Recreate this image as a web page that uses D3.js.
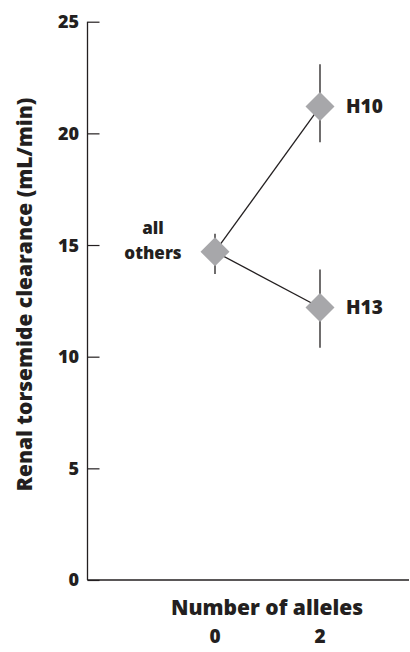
<!DOCTYPE html>
<html><head><meta charset="utf-8">
<script src="https://cdn.jsdelivr.net/npm/d3@7"></script>
<style>body{margin:0;background:#fff}text{font-family:"Open Sans",Lato,sans-serif;font-weight:800;fill:#231f20}</style>
</head><body><svg id="c" width="410" height="652"></svg>
<script>
const groups = ["all others","H10","H13"];
const alleles = [0,2,2];
const means = [14.7,21.2,12.2];
const lower = [13.7,19.6,10.4];
const upper = [15.5,23.1,13.9];
const yTicks = [0,5,10,15,20,25];
const xTickLabels = ["0","2"];

const svg = d3.select("#c");
const y = d3.scaleLinear().domain([0,25]).range([580,21.7]);
const x = d3.scaleLinear().domain([0,2]).range([215,320]);
const x0 = 87.5;

const ya = svg.append("g").attr("transform",`translate(${x0},0)`)
  .call(d3.axisRight(y).tickValues(yTicks).tickSize(12).tickFormat(""));
ya.select(".domain").remove();
ya.selectAll("line").attr("stroke","#231f20").attr("stroke-width",1.2);
svg.append("line").attr("x1",x0).attr("x2",x0).attr("y1",y(25)).attr("y2",y(0)).attr("stroke","#231f20").attr("stroke-width",1.3);
svg.append("line").attr("x1",x0).attr("x2",409).attr("y1",y(0)).attr("y2",y(0)).attr("stroke","#231f20").attr("stroke-width",1.3);
svg.selectAll("text.yt").data(yTicks).enter().append("text").attr("class","yt")
  .attr("x",79).attr("y",d=>y(d)).attr("dy","0.36em").attr("text-anchor","end")
  .style("font-size","18px").text(d=>d);

svg.append("text").attr("transform",`translate(32,294.5) rotate(-90)`).attr("text-anchor","middle")
  .style("font-size","21px").text("Renal torsemide clearance (mL/min)");

svg.append("text").attr("x",267).attr("y",615).attr("text-anchor","middle").style("font-size","21px").text("Number of alleles");
svg.selectAll("text.xt").data([0,2]).enter().append("text").attr("class","xt")
  .attr("x",d=>x(d)).attr("y",643).attr("text-anchor","middle").style("font-size","19px").text((d,i)=>xTickLabels[i]);

[1,2].forEach(i=>{
  svg.append("line").attr("x1",x(alleles[0])).attr("y1",y(means[0])).attr("x2",x(alleles[i])).attr("y2",y(means[i]))
    .attr("stroke","#231f20").attr("stroke-width",1.3);
});
groups.forEach((g,i)=>{
  svg.append("line").attr("x1",x(alleles[i])).attr("x2",x(alleles[i])).attr("y1",y(lower[i])).attr("y2",y(upper[i]))
    .attr("stroke","#231f20").attr("stroke-width",1.3);
});
const sym = d3.symbol().type(d3.symbolSquare).size(420);
groups.forEach((g,i)=>{
  svg.append("path").attr("d",sym()).attr("fill","#a7a7aa")
    .attr("transform",`translate(${x(alleles[i])},${y(means[i])}) rotate(45)`);
});
svg.append("text").attr("x",346).attr("y",y(means[1])).attr("dy","0.36em").style("font-size","19px").text("H10");
svg.append("text").attr("x",346).attr("y",y(means[2])).attr("dy","0.36em").style("font-size","19px").text("H13");
svg.append("text").attr("x",153).attr("y",234).attr("text-anchor","middle").style("font-size","17px").text("all");
svg.append("text").attr("x",153).attr("y",259).attr("text-anchor","middle").style("font-size","17px").text("others");
</script></body></html>
